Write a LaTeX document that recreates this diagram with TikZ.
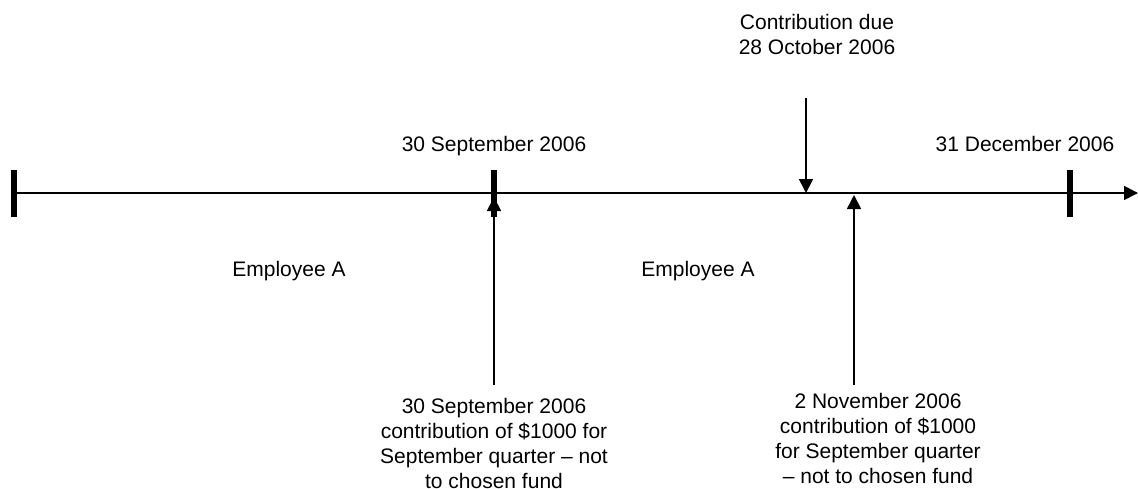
\documentclass[tikz,border=0pt]{standalone}
\usepackage{fontspec}
\setmainfont{Liberation Sans}
\usepackage{tikz}
\usetikzlibrary{arrows.meta}
\usetikzlibrary{positioning}

\begin{document}
\begin{tikzpicture}[x=0.5pt,y=-0.5pt,
		lbl/.style={font=\fontsize{10.5}{12.5}\selectfont,align=center,inner sep=0pt,anchor=north},
		datetick/.style={line width=3pt},
		pointer/.style={-{Triangle[length=7pt,width=7pt]},line width=0.85pt}]
		\useasboundingbox (0,0) rectangle (1138,488);

		\coordinate (start) at (14,193);
		\coordinate (finish) at (1138,193);
		\coordinate (sept) at (494,193);
		\coordinate (dec) at (1070,193);
		\coordinate (due) at (806,193);
		\coordinate (nov) at (854,193);

		\coordinate (due top) at (806,98);
		\coordinate (sept foot) at (494,385);
		\coordinate (nov foot) at (854,385);

		\draw [pointer] (start) -- (finish);
		\foreach \t in {start,sept,dec}
			\draw [datetick] ([yshift=11.75pt]\t) -- ([yshift=-11.75pt]\t);

		\draw [pointer] (due top) -- (due);
		\draw [pointer] (sept foot) -- ([yshift=-2pt]sept);
		\draw [pointer] (nov foot) -- ([yshift=-1pt]nov);

		\node [lbl] (sept label) at (494,136) {30 September 2006};
		\node [lbl] (dec label) at (1025,136) {31 December 2006};
		\node [lbl] (due label) at (817,14) {Contribution due\\28 October 2006};

		\node [lbl] (emp one) at (289,261) {Employee A};
		\node [lbl] (emp two) at (698,261) {Employee A};

		\node [lbl] (sept note) at (494,398) {30 September 2006\\contribution of \$1000 for\\September quarter -- not\\to chosen fund};
		\node [lbl] (nov note) at (878,393) {2 November 2006\\contribution of \$1000\\for September quarter\\-- not to chosen fund};
	\end{tikzpicture}
\end{document}
